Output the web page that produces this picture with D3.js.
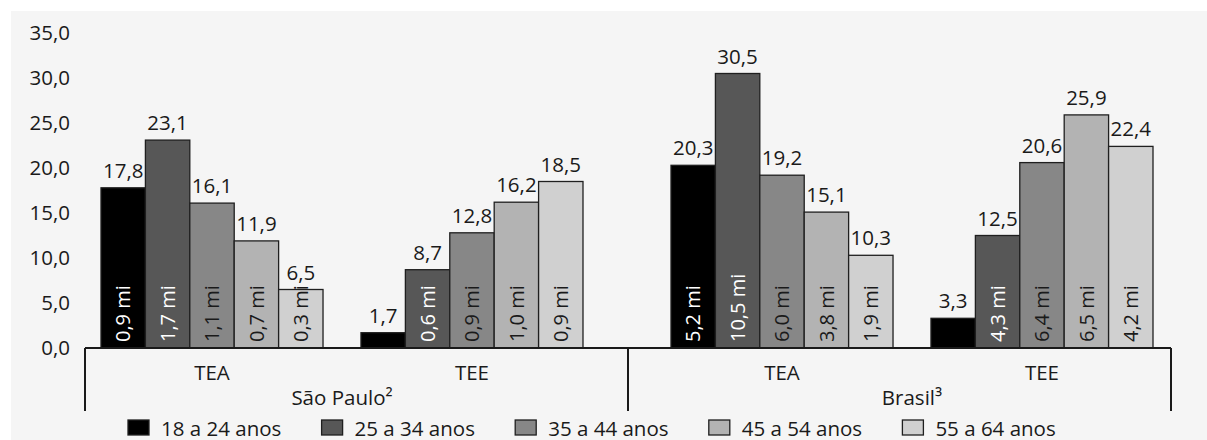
<!DOCTYPE html>
<html>
<head>
<meta charset="utf-8">
<script src="https://cdn.jsdelivr.net/npm/d3@7/dist/d3.min.js"></script>
<style>
  html, body { margin: 0; padding: 0; background: #ffffff; }
  svg { display: block; }
  text { font-family: "Open Sans", "Noto Sans", sans-serif; fill: #1a1a1a; }
</style>
</head>
<body>
<div id="chart"></div>
<script>
// ---------- data ----------
const groups = ["São Paulo²", "Brasil³"];
const indicators = ["TEA", "TEE"];
const ageBands = ["18 a 24 anos", "25 a 34 anos", "35 a 44 anos", "45 a 54 anos", "55 a 64 anos"];
const yTicks = [0, 5, 10, 15, 20, 25, 30, 35];

// rates (%)
const spTEA = [17.8, 23.1, 16.1, 11.9, 6.5];
const spTEE = [1.7, 8.7, 12.8, 16.2, 18.5];
const brTEA = [20.3, 30.5, 19.2, 15.1, 10.3];
const brTEE = [3.3, 12.5, 20.6, 25.9, 22.4];

// people (millions) shown inside bars
const spTEAmi = [0.9, 1.7, 1.1, 0.7, 0.3];
const spTEEmi = [null, 0.6, 0.9, 1.0, 0.9];
const brTEAmi = [5.2, 10.5, 6.0, 3.8, 1.9];
const brTEEmi = [null, 4.3, 6.4, 6.5, 4.2];

const colors = ["#000000", "#575757", "#878787", "#b3b3b3", "#d0d0d0"];

// ---------- build table ----------
const table = [
  { group: groups[0], ind: indicators[0], vals: spTEA, mi: spTEAmi },
  { group: groups[0], ind: indicators[1], vals: spTEE, mi: spTEEmi },
  { group: groups[1], ind: indicators[0], vals: brTEA, mi: brTEAmi },
  { group: groups[1], ind: indicators[1], vals: brTEE, mi: brTEEmi }
];

// ---------- layout ----------
const W = 1207, H = 440;
const fmt = v => v.toFixed(1).replace(".", ",");
const FS = "20.5px";

const svg = d3.select("#chart").append("svg").attr("width", W).attr("height", H);

svg.append("rect").attr("x", 11).attr("y", 11).attr("width", W - 11).attr("height", H - 11)
  .attr("fill", "#f5f5f5");

const y = d3.scaleLinear().domain([0, 35]).range([348, 33]);

const xGroup = d3.scaleBand().domain(groups).range([101, 1153]).paddingInner(0.1544);
const xInd = d3.scaleBand().domain(indicators).range([0, xGroup.bandwidth()]).paddingInner(0.146);
const xAge = d3.scaleBand().domain(ageBands).range([0, xInd.bandwidth()]);
const xAxisGroup = d3.scaleBand().domain(groups).range([85, 1171]);

// y tick labels
svg.append("g").selectAll("text").data(yTicks).join("text")
  .attr("x", 70).attr("y", d => y(d)).attr("dy", "0.36em")
  .attr("text-anchor", "end").style("font-size", FS)
  .text(d => fmt(d));

// bars
const clusters = svg.append("g").selectAll("g.cluster").data(table).join("g")
  .attr("class", "cluster")
  .attr("transform", d => `translate(${xGroup(d.group) + xInd(d.ind)},0)`);

const cells = clusters.selectAll("g.cell")
  .data(d => d.vals.map((v, i) => ({ v, mi: d.mi[i], age: ageBands[i], i })))
  .join("g").attr("class", "cell");

cells.append("rect")
  .attr("x", d => xAge(d.age))
  .attr("y", d => y(d.v))
  .attr("width", xAge.bandwidth())
  .attr("height", d => y(0) - y(d.v))
  .attr("fill", d => colors[d.i])
  .attr("stroke", "#1f1f1f").attr("stroke-width", 1.3);

cells.append("text")
  .attr("x", d => xAge(d.age) + xAge.bandwidth() / 2)
  .attr("y", d => y(d.v) - 10)
  .attr("text-anchor", "middle").style("font-size", FS)
  .text(d => fmt(d.v));

cells.filter(d => d.mi !== null).append("text")
  .attr("transform", d => `translate(${xAge(d.age) + xAge.bandwidth() / 2},${y(0) - 6}) rotate(-90)`)
  .attr("dy", "0.36em")
  .attr("text-anchor", "start").style("font-size", "20px")
  .style("fill", d => d.i < 2 ? "#ffffff" : "#1a1a1a")
  .text(d => fmt(d.mi) + " mi");

// category axis
const axis = svg.append("g").attr("stroke", "#1a1a1a").attr("stroke-width", 2);
axis.append("line").attr("x1", xAxisGroup.range()[0]).attr("x2", xAxisGroup.range()[1])
  .attr("y1", y(0)).attr("y2", y(0));
const bounds = groups.map(g => xAxisGroup(g)).concat([xAxisGroup.range()[1]]);
axis.selectAll("line.div").data(bounds).join("line").attr("class", "div")
  .attr("x1", d => d).attr("x2", d => d).attr("y1", y(0)).attr("y2", 411);

// indicator labels
svg.append("g").selectAll("text").data(table).join("text")
  .attr("x", d => xGroup(d.group) + xInd(d.ind) + xInd.bandwidth() / 2)
  .attr("y", 380).attr("text-anchor", "middle").style("font-size", FS)
  .text(d => d.ind);

// group labels
svg.append("g").selectAll("text").data(groups).join("text")
  .attr("x", d => xGroup(d) + xGroup.bandwidth() / 2)
  .attr("y", 405).attr("text-anchor", "middle").style("font-size", FS)
  .text(d => d);

// legend
const legStep = 193.6;
const leg = svg.append("g").selectAll("g").data(ageBands).join("g")
  .attr("transform", (d, i) => `translate(${128 + i * legStep},0)`);
leg.append("rect").attr("x", 0).attr("y", 420).attr("width", 21).attr("height", 15)
  .attr("fill", (d, i) => colors[i]).attr("stroke", "#1f1f1f").attr("stroke-width", 1.3);
leg.append("text").attr("x", 33).attr("y", 435.5).style("font-size", FS).text(d => d);
</script>
</body>
</html>
